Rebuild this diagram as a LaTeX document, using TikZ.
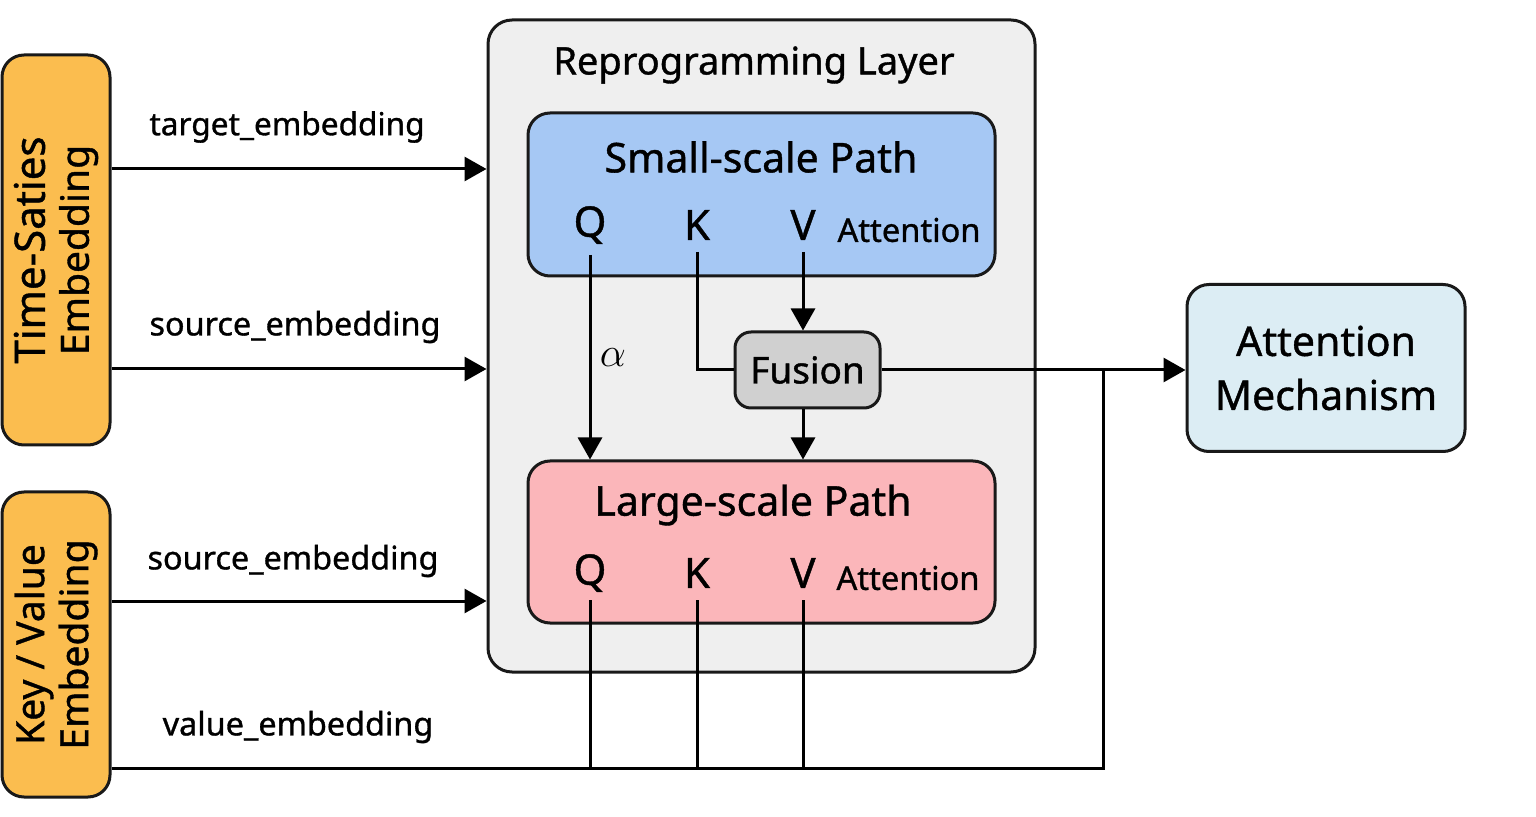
\documentclass[tikz,border=0pt]{standalone}
\usepackage{fontspec}
\setmainfont{Noto Sans}[FakeBold=1.0]
\usetikzlibrary{arrows.meta,calc}
\definecolor{orng}{HTML}{FBBD4F}
\definecolor{grayout}{HTML}{EFEFEF}
\definecolor{bluebox}{HTML}{A6C8F4}
\definecolor{pinkbox}{HTML}{FBB6BA}
\definecolor{fusegray}{HTML}{D0D0D0}
\definecolor{attnblue}{HTML}{DCEDF4}
\tikzset{
  box/.style={draw=black!90, line width=1.5pt, rounded corners=11pt, inner sep=0pt},
  arr/.style={line width=1.5pt, -{Triangle[width=12pt,length=11pt]}},
  ln/.style={line width=1.5pt},
  lbl/.style={font=\fontsize{16.2}{19}\selectfont, inner sep=0pt},
  qkv/.style={font=\fontsize{21}{24}\selectfont, inner sep=0pt},
  attw/.style={font=\fontsize{16.3}{19}\selectfont, inner sep=0pt},
  ttl/.style={font=\fontsize{20.5}{24}\selectfont, inner sep=0pt},
}
\begin{document}
\begin{tikzpicture}[x=0.5pt,y=-0.5pt]
\useasboundingbox (0,0) rectangle (1536,817);
% left boxes
\node[box, fill=orng, minimum width=54pt, minimum height=195pt] (ts) at (56,250) {};
\node[rotate=90, align=center, font=\fontsize{19.5}{22}\selectfont] at (ts.center) {{\fontsize{21}{22}\selectfont Time-Saties}\\Embedding};
\node[box, fill=orng, minimum width=54pt, minimum height=152.5pt] (kv) at (56,644.5) {};
\node[rotate=90, align=center, font=\fontsize{19.5}{22}\selectfont] at (kv.center) {Key / Value\\Embedding};
% reprogramming layer
\node[box, fill=grayout, minimum width=273.5pt, minimum height=326pt, rounded corners=12pt] (repro) at (761.5,346) {};
\node[ttl, font=\fontsize{19}{23}\selectfont] (rtitle) at (754,65) {Reprogramming Layer};
% small-scale
\node[box, fill=bluebox, minimum width=233.5pt, minimum height=81.5pt] (small) at (761.5,194.5) {};
\node[ttl] (stitle) at (761,157) {Small-scale Path};
\node[qkv] (sq) at (590,225) {Q};
\node[qkv] (sk) at (697,225) {K};
\node[qkv] (sv) at (803,225) {V};
\node[attw] (sa) at (909,230) {Attention};
% large-scale
\node[box, fill=pinkbox, minimum width=233.5pt, minimum height=81pt] (large) at (761.5,542) {};
\node[ttl] (ltitle) at (753,505) {Large-scale Path};
\node[qkv] (lq) at (590,573) {Q};
\node[qkv] (lk) at (697,573) {K};
\node[qkv] (lv) at (803,573) {V};
\node[attw] (la) at (908,578) {Attention};
% fusion
\node[box, fill=fusegray, minimum width=72.5pt, minimum height=38pt, rounded corners=8pt, font=\fontsize{18.5}{22}\selectfont] (fusion) at (807.5,370) {Fusion};
% attention mechanism
\node[box, fill=attnblue, minimum width=139pt, minimum height=83.5pt, align=center, font=\fontsize{20.5}{27}\selectfont] (attn) at (1326,368) {Attention\\Mechanism};
% coordinates
\coordinate (jn) at (1103,370);
\coordinate (vb) at (1103,768);
\coordinate (y1) at (0,169);
\coordinate (y2) at (0,369);
\coordinate (y3) at (0,601);
% input arrows
\draw[arr] (ts.east |- y1) -- (repro.west |- y1);
\draw[arr] (ts.east |- y2) -- (repro.west |- y2);
\draw[arr] (kv.east |- y3) -- (repro.west |- y3);
\draw[ln] (kv.east |- vb) -- (vb) -- (jn);
\node[lbl, font=\fontsize{15.8}{19}\selectfont] at (287,127) {target\_embedding};
\node[lbl] at (295,327) {source\_embedding};
\node[lbl] at (293,561) {source\_embedding};
\node[lbl] at (298,727) {value\_embedding};
% internal connectors
\draw[arr] ($(sq)+(0,30)$) -- (sq |- large.north);
\node[font=\fontsize{20}{22}\selectfont] at (613,358) {$\alpha$};
\draw[ln] ($(sk)+(0,27)$) |- (fusion.west);
\draw[arr] ($(sv)+(0,27)$) -- (sv |- fusion.north);
\draw[arr] (sv |- fusion.south) -- (sv |- large.north);
\draw[arr] (fusion.east) -- (fusion.east -| attn.west);
% large path outputs
\draw[ln] ($(lq)+(0,27)$) -- (lq |- vb);
\draw[ln] ($(lk)+(0,27)$) -- (lk |- vb);
\draw[ln] ($(lv)+(0,27)$) -- (lv |- vb);
\end{tikzpicture}
\end{document}
